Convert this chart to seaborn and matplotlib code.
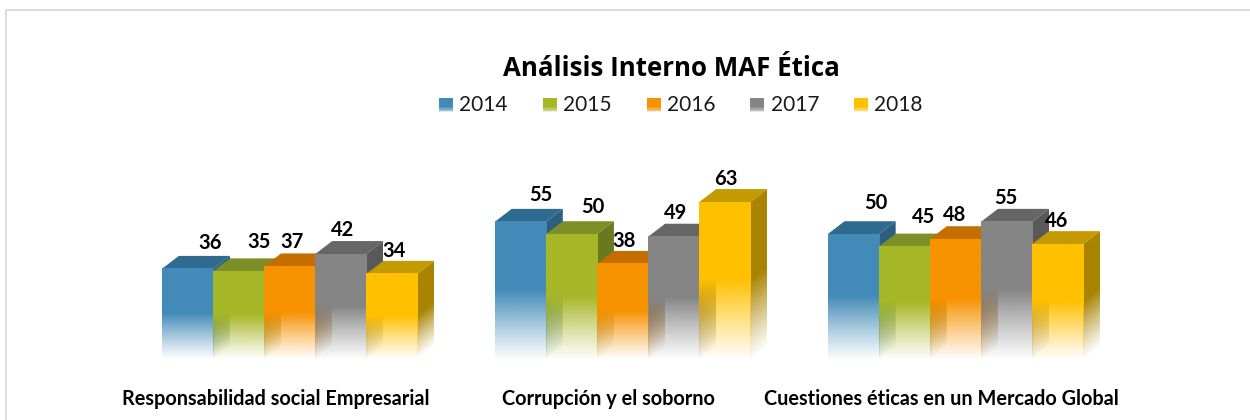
import numpy as np
import pandas as pd
import matplotlib
matplotlib.use("Agg")
import matplotlib.pyplot as plt
import seaborn as sns
from matplotlib.legend_handler import HandlerBase
from matplotlib.lines import Line2D
from matplotlib.patches import Polygon, Rectangle
from matplotlib.transforms import ScaledTranslation

categories = ["Responsabilidad social Empresarial", "Corrupción y el soborno",
              "Cuestiones éticas en un Mercado Global"]
years = ["2014", "2015", "2016", "2017", "2018"]
v2014 = [36, 55, 50]
v2015 = [35, 50, 45]
v2016 = [37, 38, 48]
v2017 = [42, 49, 55]
v2018 = [34, 63, 46]

front_colors = ["#428BB8", "#A6B727", "#F79200", "#858585", "#FFC000"]
top_colors = ["#2F6A8F", "#7D8F27", "#C46E00", "#666666", "#C49A00"]
side_colors = ["#2C5F80", "#6A7A1E", "#A85F00", "#595959", "#A98400"]

# the labels were moved by hand in the original, nudges in pixels per bar
label_dx = [[23, 21, 2, 2, 2], [21, 21, 2, 2, 1], [23, 19, -1, -1, -1]]
label_dy = [[26, 29, 24, 24, 23], [27, 27, 23, 24, 23], [31, 30, 24, 24, 23]]

sns.set_style("white")
plt.rcParams["font.family"] = ["Lato", "DejaVu Sans"]

df = pd.DataFrame({"cat": categories, "2014": v2014, "2015": v2015, "2016": v2016,
                   "2017": v2017, "2018": v2018})
df = df.melt(id_vars="cat", var_name="year", value_name="value")

W, H = 1250, 420
fig = plt.figure(figsize=(W / 100, H / 100), dpi=100)
# only the top and left edge of the original frame are in the picture
fig.add_artist(Line2D([6 / W, 6 / W, 1], [0, 1 - 10 / H, 1 - 10 / H], transform=fig.transFigure,
                      color="#DCDCDC", linewidth=1.4))

# bottom of the axes is the base of the bars
ax = fig.add_axes([40 / W, (H - 358) / H, 1165 / W, 218 / H])
sns.barplot(data=df, x="cat", y="value", hue="year", hue_order=years, order=categories,
            palette=front_colors, width=0.768, gap=0, saturation=1, legend=False, ax=ax)
ax.set_xlim(-0.75, 2.75)
ax.set_ylim(0, 218 / 2.475)

px_x = 3.5 / 1165
px_y = (218 / 2.475) / 218
depth_x = 17 * px_x
depth_y = 13 * px_y


def rgba_fade(color, alpha):
    rgb = np.array(matplotlib.colors.to_rgb(color))
    img = np.ones(alpha.shape + (4,))
    img[..., :3] = rgb
    img[..., 3] = alpha
    return img


def fade(u):
    # u is 0 at the base, 1 at the top: solid in the upper half
    a = np.clip(u / 0.5, 0, 1)
    return 0.04 + 0.96 * a ** 1.1


for i_hue, cont in enumerate(ax.containers):
    for i_cat, bar in enumerate(cont):
        x0, w, h = bar.get_x(), bar.get_width(), bar.get_height()
        x1 = x0 + w
        # painters order: left to right, side + top first and then the front
        z = 2 + i_hue + i_cat * 10
        bar.set_facecolor("none")
        bar.set_edgecolor("none")

        top = Polygon([(x0, h), (x1, h), (x1 + depth_x, h + depth_y), (x0 + depth_x, h + depth_y)],
                      facecolor=top_colors[i_hue], edgecolor="none", zorder=z)
        ax.add_patch(top)

        side = Polygon([(x1, 0), (x1 + depth_x, depth_y), (x1 + depth_x, h + depth_y), (x1, h)],
                       transform=ax.transData, facecolor="none", edgecolor="none")
        ax.add_patch(side)
        xx, yy = np.meshgrid(np.linspace(0, 1, 20), np.linspace(1, 0, 200))
        ys = (yy * (h + depth_y) - xx * depth_y) / h
        im = ax.imshow(rgba_fade(side_colors[i_hue], fade(ys)), extent=(x1, x1 + depth_x, 0, h + depth_y),
                       aspect="auto", zorder=z, interpolation="bilinear")
        im.set_clip_path(side)

        yy = np.linspace(1, 0, 200).reshape(-1, 1)
        ax.imshow(rgba_fade(front_colors[i_hue], fade(yy)), extent=(x0, x1, 0, h),
                  aspect="auto", zorder=z + 0.5, interpolation="bilinear")

        ax.annotate(str(int(h)), (x0 + w / 2, h), xytext=(label_dx[i_cat][i_hue] * 0.72, label_dy[i_cat][i_hue] * 0.72),
                    textcoords="offset points", ha="center", va="center", fontsize=14.5,
                    fontweight="bold", color="black", zorder=100)

ax.set_xlim(-0.75, 2.75)
ax.set_ylim(0, 218 / 2.475)
sns.despine(ax=ax, left=True, bottom=True)
ax.set_yticks([])
ax.set_xlabel("")
ax.set_ylabel("")
ax.tick_params(axis="x", length=0, pad=22.5)
ax.patch.set_alpha(0)
for lab in ax.get_xticklabels():
    lab.set_fontweight("bold")
    lab.set_fontsize(14.3)
    lab.set_color("black")
    lab.set_transform(lab.get_transform() + ScaledTranslation(-14 / 100, 0, fig.dpi_scale_trans))


class FadeHandler(HandlerBase):
    def create_artists(self, legend, orig, xd, yd, width, height, fontsize, trans):
        n = 30
        out = []
        size = 10
        color = orig.get_facecolor()
        for k in range(n):
            u = (k + 0.5) / n
            a = np.clip(u / 0.35, 0, 1)
            out.append(Rectangle((-xd, -yd + 1 + size * k / n), size, size / n + 0.2,
                                 facecolor=color, alpha=float(a), edgecolor="none", transform=trans))
        return out


handles = [Rectangle((0, 0), 1, 1, facecolor=c) for c in front_colors]
fig.legend(handles, years, handler_map={Rectangle: FadeHandler()}, ncols=5, frameon=False,
           loc="center", bbox_to_anchor=(681 / W, 1 - 105 / H), fontsize=15, labelcolor="#1A1A1A",
           handlelength=0.67, handleheight=1.0, handletextpad=0.3, columnspacing=1.68,
           borderpad=0, borderaxespad=0)

fig.text(671 / W, 1 - 69 / H, "Análisis Interno MAF Ética", ha="center", va="center",
         fontsize=18.6, fontweight="bold", color="black", family=["Open Sans", "DejaVu Sans"])

fig.savefig("out.png", dpi=100)
